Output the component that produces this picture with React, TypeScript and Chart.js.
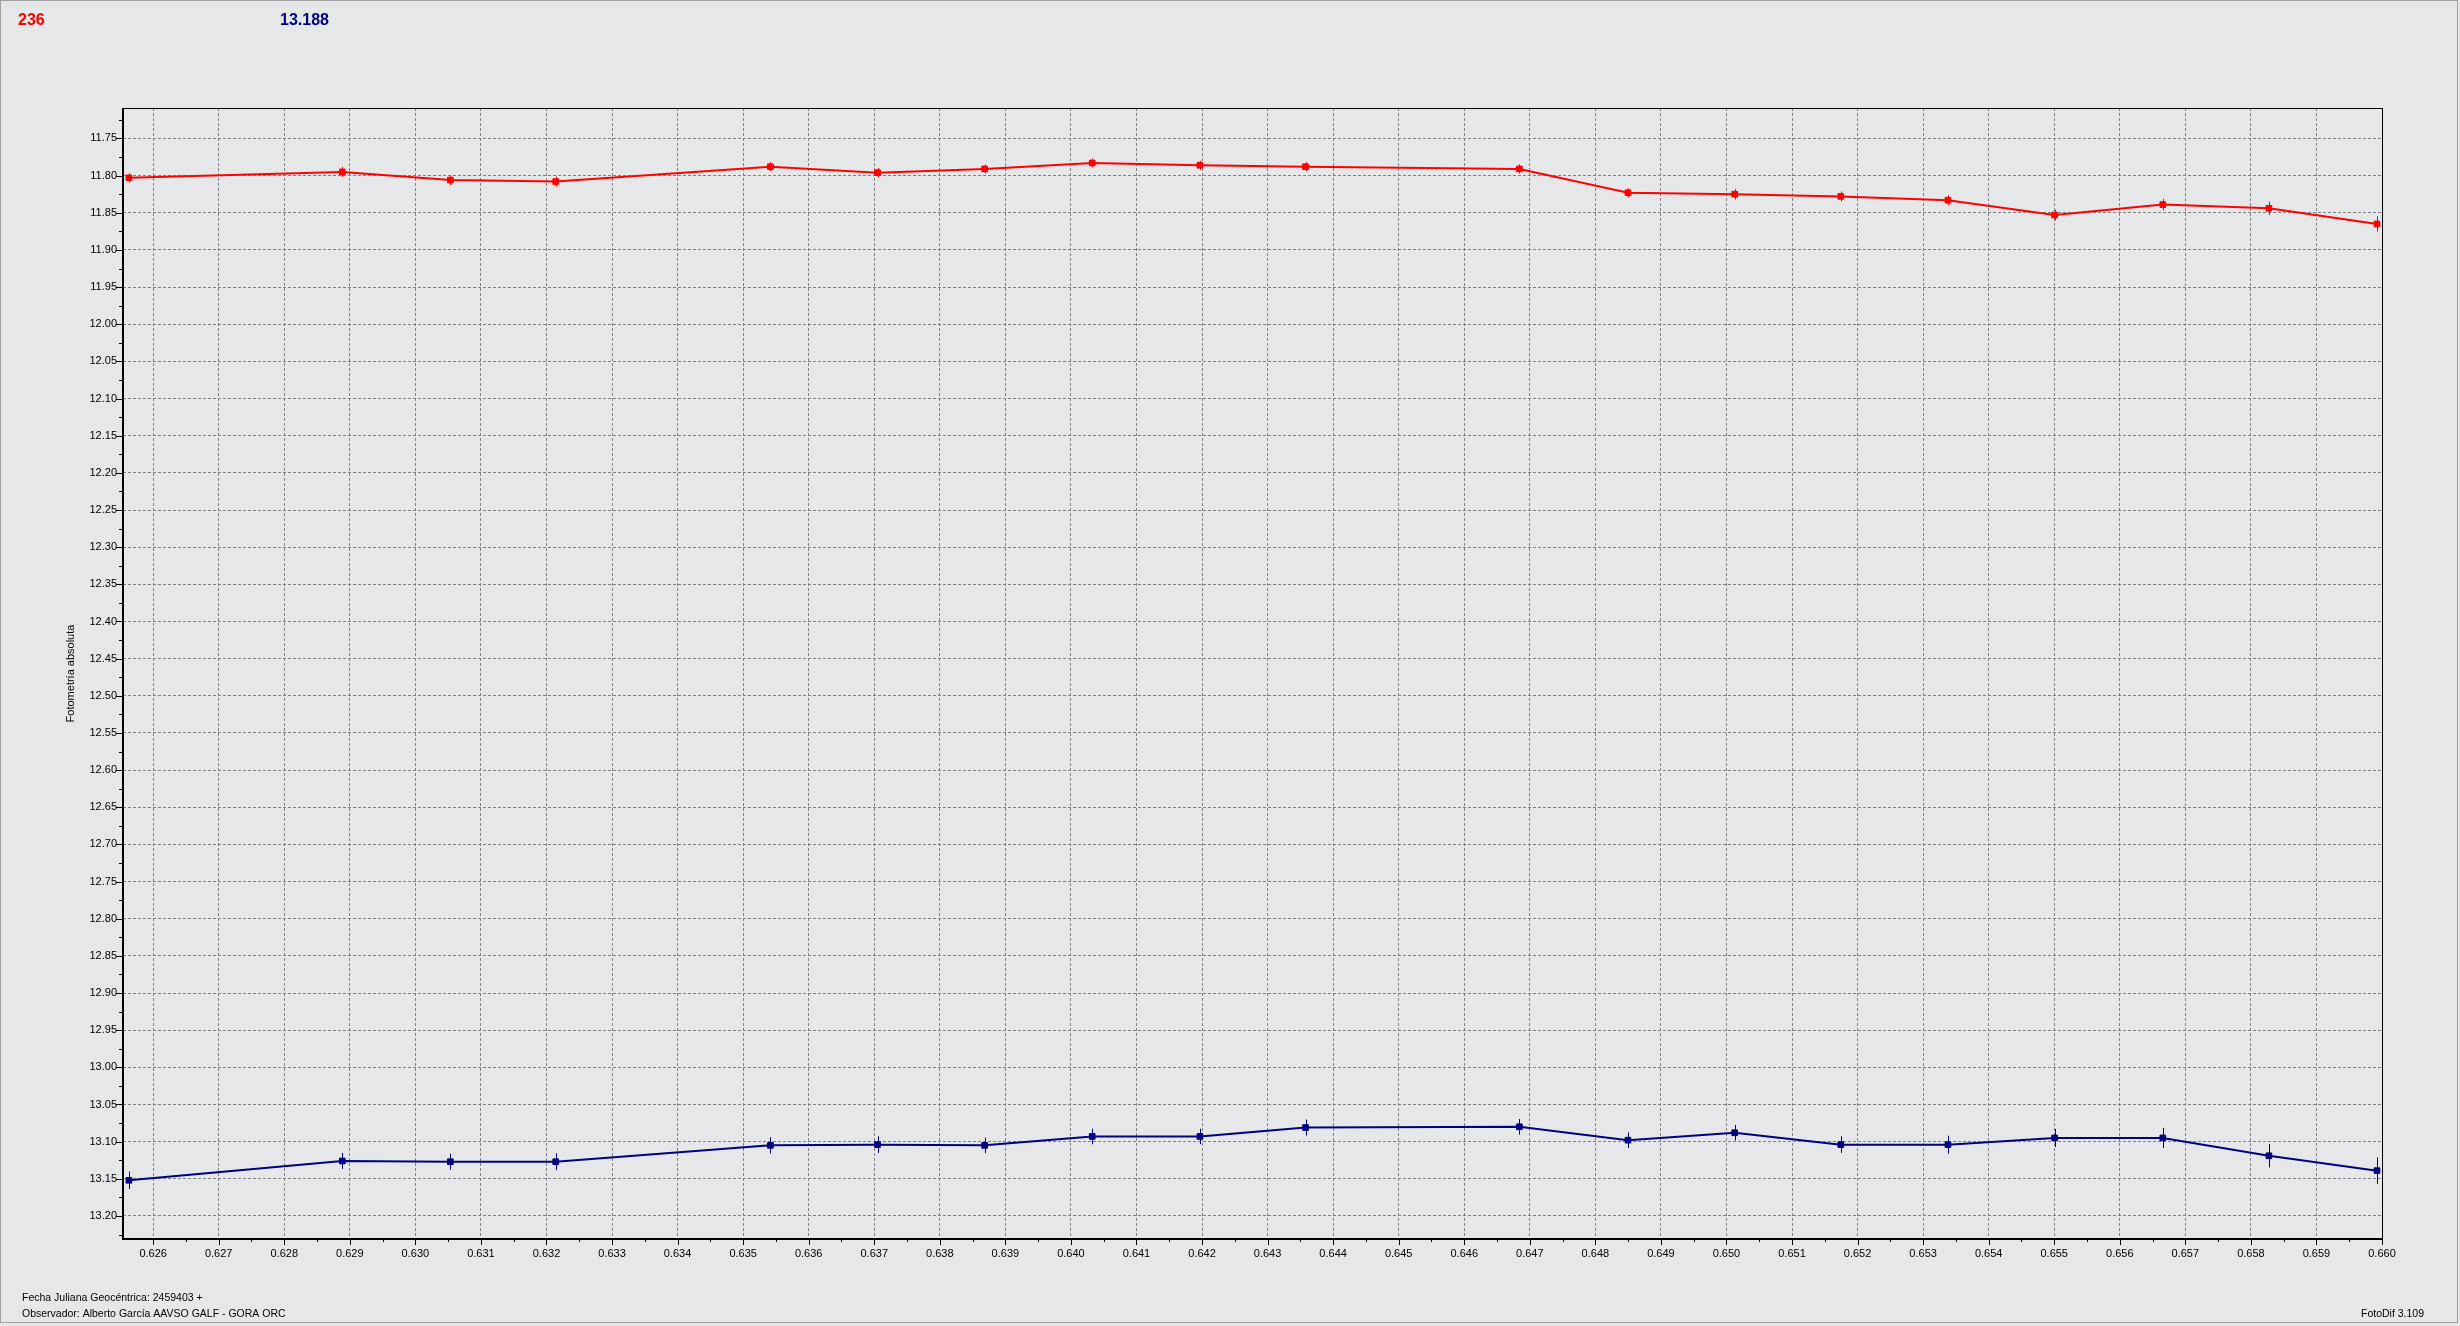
import React, { useEffect, useRef } from 'react';
import { Chart, registerables } from 'chart.js';

Chart.register(...registerables);

// ---- data ----
const jd = [0.62563, 0.628885, 0.630533, 0.632141, 0.635416, 0.63705, 0.638684, 0.640325, 0.641968, 0.643579, 0.646841, 0.648498, 0.650126, 0.651744, 0.653379, 0.655006, 0.656656, 0.658275, 0.659924];
const redMag = [11.803, 11.795, 11.806, 11.808, 11.788, 11.796, 11.791, 11.783, 11.786, 11.788, 11.791, 11.823, 11.825, 11.828, 11.833, 11.853, 11.839, 11.844, 11.865];
const redErr = [0.0063, 0.0067, 0.0067, 0.0067, 0.006, 0.006, 0.006, 0.006, 0.006, 0.006, 0.0062, 0.006, 0.0071, 0.0067, 0.0067, 0.0071, 0.0078, 0.009, 0.0104];
const blueMag = [13.152, 13.126, 13.127, 13.127, 13.105, 13.104, 13.105, 13.093, 13.093, 13.081, 13.08, 13.098, 13.088, 13.104, 13.104, 13.095, 13.095, 13.119, 13.139];
const blueErr = [0.0117, 0.0108, 0.0108, 0.0114, 0.011, 0.0112, 0.0104, 0.0105, 0.0104, 0.0108, 0.0105, 0.0105, 0.0105, 0.0112, 0.0121, 0.0121, 0.0135, 0.0157, 0.0178];

const xTicks = [0.626, 0.627, 0.628, 0.629, 0.63, 0.631, 0.632, 0.633, 0.634, 0.635, 0.636, 0.637, 0.638, 0.639, 0.64, 0.641, 0.642, 0.643, 0.644, 0.645, 0.646, 0.647, 0.648, 0.649, 0.65, 0.651, 0.652, 0.653, 0.654, 0.655, 0.656, 0.657, 0.658, 0.659, 0.66];
const yTicks = [11.75, 11.8, 11.85, 11.9, 11.95, 12.0, 12.05, 12.1, 12.15, 12.2, 12.25, 12.3, 12.35, 12.4, 12.45, 12.5, 12.55, 12.6, 12.65, 12.7, 12.75, 12.8, 12.85, 12.9, 12.95, 13.0, 13.05, 13.1, 13.15, 13.2];

const xMin = 0.62554;
const xMax = 0.66;
const yMin = 11.709;
const yMax = 13.231;

const headerRed = '236';
const headerBlue = '13.188';
const yTitle = 'Fotometría absoluta';
const footer1 = 'Fecha Juliana Geocéntrica: 2459403 +';
const footer2 = 'Observador: Alberto García AAVSO GALF - GORA ORC';
const versionText = 'FotoDif 3.109';

// ---- styles ----
const BG = 'rgb(230,231,233)';
const RED = '#ff0000';
const NAVY = '#000080';
const FONT = '"Liberation Sans", Arial, sans-serif';

const errs = [redErr, blueErr];

const decor = {
  id: 'decor',
  beforeDraw(chart: any) {
    const ctx = chart.ctx;
    ctx.save();
    ctx.fillStyle = BG;
    ctx.fillRect(0, 0, chart.width, chart.height);
    ctx.strokeStyle = '#a0a0a0';
    ctx.lineWidth = 1;
    ctx.strokeRect(0.5, 0.5, chart.width - 3, chart.height - 4);
    ctx.restore();
  },
  afterDatasetsDraw(chart: any) {
    const ctx = chart.ctx;
    const ys = chart.scales.y;
    ctx.save();
    chart.data.datasets.forEach((ds: any, di: number) => {
      const meta = chart.getDatasetMeta(di);
      ctx.strokeStyle = ds.borderColor;
      ctx.lineWidth = 1;
      meta.data.forEach((pt: any, i: number) => {
        const v = ds.data[i].y;
        const e = errs[di][i];
        const x = Math.round(pt.x) + 0.5;
        ctx.beginPath();
        ctx.moveTo(x, ys.getPixelForValue(v - e));
        ctx.lineTo(x, ys.getPixelForValue(v + e));
        ctx.stroke();
      });
    });
    ctx.restore();
  },
  afterDraw(chart: any) {
    const ctx = chart.ctx;
    const { left, right, top, bottom } = chart.chartArea;
    const xs = chart.scales.x;
    const ys = chart.scales.y;
    ctx.save();
    ctx.fillStyle = '#000';
    // frame
    ctx.fillRect(left - 1, top, 2, bottom - top + 1);
    ctx.fillRect(left - 1, bottom - 1, right - left + 2, 2);
    ctx.fillRect(left, top, right - left, 1);
    ctx.fillRect(right, top, 1, bottom - top + 1);
    // x tick marks
    xTicks.forEach((t, i) => {
      const px = Math.round(xs.getPixelForValue(t));
      ctx.fillRect(px, bottom, 1, 6);
      const m = t + 0.0005;
      if (i < xTicks.length - 1 && m < xMax) {
        const pm = Math.round(xs.getPixelForValue(m));
        ctx.fillRect(pm, bottom, 1, 3);
      }
    });
    // y tick marks
    const ys0 = [yTicks[0] - 0.025, ...yTicks.map((t) => t + 0.025)];
    yTicks.forEach((t) => {
      const py = Math.round(ys.getPixelForValue(t));
      ctx.fillRect(left - 7, py, 6, 1);
    });
    ys0.forEach((t) => {
      if (t > yMin && t < yMax) {
        const py = Math.round(ys.getPixelForValue(t));
        ctx.fillRect(left - 4, py, 3, 1);
      }
    });
    // header
    ctx.textBaseline = 'alphabetic';
    ctx.textAlign = 'left';
    ctx.font = `bold 16px ${FONT}`;
    ctx.fillStyle = RED;
    ctx.fillText(headerRed, 18, 25);
    ctx.fillStyle = NAVY;
    ctx.fillText(headerBlue, 280, 25);
    // footers
    ctx.font = `10.5px ${FONT}`;
    ctx.fillStyle = '#000';
    ctx.fillText(footer1, 22, 1301);
    ctx.fillText(footer2, 22, 1317);
    ctx.textAlign = 'right';
    ctx.fillText(versionText, 2424, 1317);
    // y title
    ctx.font = `11px ${FONT}`;
    ctx.translate(71, (top + bottom) / 2);
    ctx.rotate(-Math.PI / 2);
    ctx.textAlign = 'center';
    ctx.textBaseline = 'middle';
    ctx.fillText(yTitle, 0, 0);
    ctx.restore();
  },
};

export default function App() {
  const ref = useRef<HTMLCanvasElement | null>(null);

  useEffect(() => {
    if (!ref.current) return;
    const chart = new Chart(ref.current, {
      type: 'line',
      data: {
        datasets: [
          {
            label: 'var',
            data: jd.map((x, i) => ({ x, y: redMag[i] })),
            borderColor: RED,
            backgroundColor: RED,
            borderWidth: 2,
            pointStyle: 'rect',
            pointRadius: 4,
            pointBorderWidth: 1,
            tension: 0,
            fill: false,
          },
          {
            label: 'comp',
            data: jd.map((x, i) => ({ x, y: blueMag[i] })),
            borderColor: NAVY,
            backgroundColor: NAVY,
            borderWidth: 2,
            pointStyle: 'rect',
            pointRadius: 4,
            pointBorderWidth: 1,
            tension: 0,
            fill: false,
          },
        ],
      },
      options: {
        animation: false,
        responsive: false,
        devicePixelRatio: 1,
        layout: { padding: { left: 0, top: 108, right: 78, bottom: 47 } },
        plugins: { legend: { display: false }, tooltip: { enabled: false }, title: { display: false } },
        scales: {
          x: {
            type: 'linear',
            min: xMin,
            max: xMax,
            afterBuildTicks: (s: any) => {
              s.ticks = xTicks.map((v) => ({ value: v }));
            },
            afterFit: (s: any) => {
              s.height = 40;
            },
            grid: { color: '#808080', lineWidth: 1, drawTicks: false },
            border: { display: false, dash: [3, 2] },
            ticks: {
              autoSkip: false,
              maxRotation: 0,
              padding: 8,
              color: '#000',
              font: { family: FONT, size: 11 },
              callback: (v: any) => Number(v).toFixed(3),
            },
          },
          y: {
            type: 'linear',
            reverse: true,
            min: yMin,
            max: yMax,
            afterBuildTicks: (s: any) => {
              s.ticks = yTicks.map((v) => ({ value: v }));
            },
            afterFit: (s: any) => {
              s.width = 123;
            },
            grid: { color: '#808080', lineWidth: 1, drawTicks: false },
            border: { display: false, dash: [3, 2] },
            ticks: {
              autoSkip: false,
              padding: 6,
              color: '#000',
              font: { family: FONT, size: 11 },
              callback: (v: any) => Number(v).toFixed(2),
            },
          },
        },
      },
      plugins: [decor],
    } as any);
    return () => chart.destroy();
  }, []);

  return (
    <div style={{ position: 'fixed', left: 0, top: 0, width: 2460, height: 1326 }}>
      <canvas ref={ref} width={2460} height={1326} style={{ width: 2460, height: 1326, display: 'block' }} />
    </div>
  );
}
